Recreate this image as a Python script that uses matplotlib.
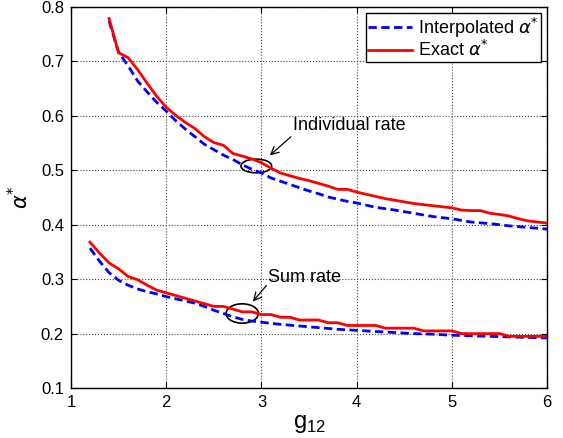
import numpy as np
import matplotlib
matplotlib.use("Agg")
import matplotlib.pyplot as plt
from matplotlib.patches import Ellipse

plt.rcParams['font.family'] = ['Liberation Sans', 'DejaVu Sans']
plt.rcParams['mathtext.fontset'] = 'dejavusans'

# ---- data ----
g_ind_exact = [1.4, 1.5, 1.6, 1.7, 1.8, 1.9, 2.0, 2.1, 2.2, 2.3, 2.4, 2.5, 2.6, 2.7, 2.8, 2.9,
               3.0, 3.1, 3.2, 3.3, 3.4, 3.5, 3.6, 3.7, 3.8, 3.9, 4.0, 4.1, 4.2, 4.3, 4.4, 4.5,
               4.6, 4.7, 4.8, 4.9, 5.0, 5.1, 5.2, 5.3, 5.4, 5.5, 5.6, 5.7, 5.8, 5.9, 6.0]
ind_exact = [0.779, 0.716, 0.707, 0.685, 0.660, 0.636, 0.616, 0.601, 0.588, 0.577, 0.562, 0.551,
             0.546, 0.531, 0.526, 0.521, 0.514, 0.504, 0.495, 0.490, 0.485, 0.481, 0.476, 0.471,
             0.465, 0.465, 0.460, 0.456, 0.452, 0.448, 0.445, 0.442, 0.439, 0.437, 0.435, 0.433,
             0.431, 0.427, 0.426, 0.426, 0.421, 0.419, 0.416, 0.411, 0.407, 0.405, 0.403]

g_ind_interp = [1.4, 1.5, 1.6, 1.7, 1.8, 1.9, 2.0, 2.1, 2.2, 2.3, 2.4, 2.5, 2.6, 2.7, 2.8, 2.9,
                3.0, 3.1, 3.2, 3.3, 3.4, 3.5, 3.6, 3.7, 3.8, 3.9, 4.0, 4.2, 4.4, 4.6, 4.8, 5.0,
                5.2, 5.4, 5.6, 5.8, 6.0]
ind_interp = [0.774, 0.717, 0.692, 0.664, 0.644, 0.625, 0.609, 0.591, 0.576, 0.562, 0.548, 0.538,
              0.528, 0.520, 0.510, 0.502, 0.495, 0.486, 0.480, 0.474, 0.468, 0.462, 0.457, 0.451,
              0.447, 0.443, 0.440, 0.432, 0.427, 0.421, 0.415, 0.411, 0.405, 0.402, 0.398, 0.395,
              0.392]

g_sum_exact = [1.2, 1.3, 1.4, 1.5, 1.6, 1.7, 1.8, 1.9, 2.0, 2.1, 2.2, 2.3, 2.4, 2.5, 2.6, 2.7,
               2.8, 2.9, 3.0, 3.1, 3.2, 3.3, 3.4, 3.5, 3.6, 3.7, 3.8, 3.9, 4.0, 4.1, 4.2, 4.3,
               4.4, 4.5, 4.6, 4.7, 4.8, 4.9, 5.0, 5.1, 5.2, 5.3, 5.4, 5.5, 5.6, 5.7, 5.8, 5.9, 6.0]
sum_exact = [0.368, 0.348, 0.330, 0.319, 0.305, 0.299, 0.289, 0.280, 0.275, 0.270, 0.265, 0.260,
             0.255, 0.250, 0.250, 0.245, 0.240, 0.240, 0.235, 0.235, 0.230, 0.230, 0.225, 0.225,
             0.225, 0.220, 0.220, 0.215, 0.215, 0.215, 0.215, 0.210, 0.210, 0.210, 0.210, 0.205,
             0.205, 0.205, 0.205, 0.200, 0.200, 0.200, 0.200, 0.200, 0.195, 0.195, 0.195, 0.195,
             0.195]

g_sum_interp = [1.2, 1.3, 1.4, 1.5, 1.6, 1.7, 1.8, 1.9, 2.0, 2.1, 2.2, 2.3, 2.4, 2.5, 2.6, 2.7,
                2.8, 2.9, 3.0, 3.2, 3.4, 3.6, 3.8, 4.0, 4.2, 4.4, 4.6, 4.8, 5.0, 5.2, 5.4, 5.6,
                5.8, 6.0]
sum_interp = [0.357, 0.333, 0.312, 0.298, 0.289, 0.282, 0.277, 0.273, 0.268, 0.264, 0.260, 0.256,
              0.250, 0.243, 0.237, 0.231, 0.226, 0.223, 0.221, 0.217, 0.214, 0.211, 0.208, 0.206,
              0.204, 0.202, 0.200, 0.199, 0.197, 0.196, 0.195, 0.194, 0.193, 0.192]

x_ticks = [1, 2, 3, 4, 5, 6]
y_ticks = [0.1, 0.2, 0.3, 0.4, 0.5, 0.6, 0.7, 0.8]
legend_labels = [r'Interpolated $\alpha^{*}$', r'Exact $\alpha^{*}$']

# ---- figure ----
fig = plt.figure(figsize=(5.63, 4.38), dpi=100)
ax = fig.add_axes([0.126, 0.114, 0.846, 0.870])

lw = 2.0
l1, = ax.plot(g_ind_interp, ind_interp, color='#0000ff', lw=lw, dashes=(3, 1.6),
              label=legend_labels[0])
l2, = ax.plot(g_ind_exact, ind_exact, color='#ff0000', lw=lw, label=legend_labels[1])
ax.plot(g_sum_interp, sum_interp, color='#0000ff', lw=lw, dashes=(3, 1.6))
ax.plot(g_sum_exact, sum_exact, color='#ff0000', lw=lw)

ax.set_xlim(1, 6)
ax.set_ylim(0.1, 0.8)
ax.set_xticks(x_ticks)
ax.set_yticks(y_ticks)
ax.set_xticklabels([str(t) for t in x_ticks])
ax.set_yticklabels([f'{t:.1f}' for t in y_ticks])
ax.tick_params(direction='in', top=True, right=True, length=4, width=0.8,
               labelsize=12, pad=5)
ax.grid(True, linestyle=':', color='#444444', linewidth=0.8)
for s in ax.spines.values():
    s.set_linewidth(1.0)

ax.set_xlabel(r'g$_{\mathregular{12}}$', fontsize=17, labelpad=2)
ax.set_ylabel(r'$\alpha^{*}$', fontsize=15, labelpad=6)

leg = ax.legend(handles=[l1, l2], loc='upper right', fontsize=13, frameon=True,
                fancybox=False, edgecolor='black', framealpha=1,
                handlelength=2.4, handletextpad=0.35, labelspacing=0.02,
                borderaxespad=0.35, borderpad=0.12)
leg.get_frame().set_linewidth(1.0)

# annotations
ax.add_patch(Ellipse((2.946, 0.508), 0.322, 0.0252, fill=False, edgecolor='black', lw=1.2))
ax.annotate('', xy=(3.066, 0.524), xytext=(3.33, 0.565),
            arrowprops=dict(arrowstyle='->', color='black', lw=0.9, mutation_scale=14))
ax.text(3.335, 0.582, 'Individual rate', fontsize=13, va='center', ha='left')

ax.add_patch(Ellipse((2.798, 0.237), 0.34, 0.0355, fill=False, edgecolor='black', lw=1.2))
ax.annotate('', xy=(2.89, 0.255), xytext=(3.07, 0.292),
            arrowprops=dict(arrowstyle='->', color='black', lw=0.9, mutation_scale=14))
ax.text(3.07, 0.304, 'Sum rate', fontsize=13, va='center', ha='left')

fig.savefig('out.png', dpi=100)
